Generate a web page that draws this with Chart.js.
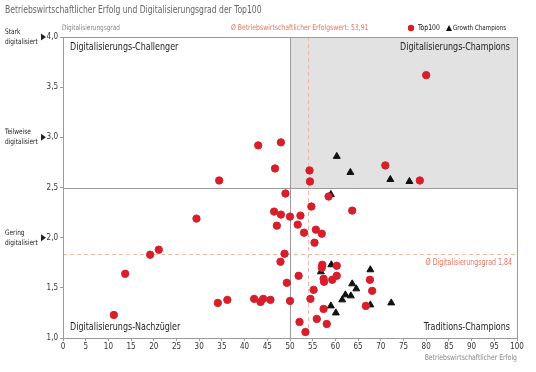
<!DOCTYPE html>
<html>
<head>
<meta charset="utf-8">
<script src="https://cdn.jsdelivr.net/npm/chart.js@4.4.0/dist/chart.umd.min.js"></script>
<style>
  html, body { margin: 0; padding: 0; background: #fff; }
</style>
</head>
<body>
<canvas id="chart" width="536" height="372"></canvas>
<script>
// Top100 (red dots): Betriebswirtschaftlicher Erfolg / Digitalisierungsgrad
const top100Erfolg = [80.0, 48.0, 43.0, 71.0, 46.7, 54.3, 34.4, 54.4, 78.6, 49.0,
  58.5, 54.7, 63.7, 46.5, 48.0, 50.0, 52.3, 47.1, 51.7, 55.7,
  57.0, 53.1, 55.4, 48.8, 29.4, 21.1, 19.2, 13.7, 11.2, 47.9,
  49.3, 51.9, 50.0, 45.7, 44.1, 43.5, 42.1, 36.2, 34.1, 52.1,
  57.1, 57.0, 60.3, 57.4, 57.5, 59.3, 60.3, 55.2, 54.5, 57.4,
  55.9, 58.1, 53.4, 67.6, 68.1, 66.7];
const top100Digital = [3.62, 2.95, 2.92, 2.72, 2.69, 2.67, 2.57, 2.56, 2.57, 2.44,
  2.41, 2.31, 2.27, 2.26, 2.23, 2.21, 2.22, 2.12, 2.13, 2.08,
  2.04, 2.05, 1.95, 1.84, 2.19, 1.88, 1.83, 1.64, 1.23, 1.76,
  1.55, 1.62, 1.37, 1.38, 1.39, 1.36, 1.39, 1.38, 1.35, 1.16,
  1.73, 1.70, 1.72, 1.59, 1.56, 1.58, 1.62, 1.48, 1.39, 1.29,
  1.19, 1.14, 1.06, 1.58, 1.47, 1.32];

// Growth Champions (black triangles)
const growthErfolg = [60.3, 63.3, 72.1, 76.3, 59.0, 59.1, 56.8, 63.7, 64.6, 62.2,
  63.4, 61.5, 59.0, 60.1, 67.7, 67.7, 72.3];
const growthDigital = [2.81, 2.65, 2.58, 2.56, 2.43, 1.73, 1.66, 1.54, 1.49, 1.43,
  1.42, 1.38, 1.32, 1.25, 1.68, 1.33, 1.35];

const avgErfolg = 53.91;
const avgDigital = 1.84;
const splitErfolg = 50;
const splitDigital = 2.5;

const levelNames = [['Stark', 'digitalisiert'], ['Teilweise', 'digitalisiert'], ['Gering', 'digitalisiert']];
const levelValues = [4, 3, 2];

const FONT = '"Liberation Sans Narrow", "DejaVu Sans Condensed", "Liberation Sans", sans-serif';
const RED = '#d71f2b';
const SALMON = '#e5765f';
const SQUEEZE = 0.86; // the original uses a condensed face

function toPoints(xs, ys) {
  return xs.map((v, i) => ({ x: v, y: ys[i] }));
}

const fmt = v => v.toFixed(1).replace('.', ',');

// narrow text: same width as before, a bit taller
function label(ctx, text, x, y, size, color, align) {
  ctx.save();
  ctx.translate(x, y);
  ctx.scale(SQUEEZE, 1);
  ctx.font = (size / SQUEEZE).toFixed(2) + 'px ' + FONT;
  ctx.fillStyle = color;
  ctx.textAlign = align || 'left';
  ctx.textBaseline = 'middle';
  ctx.fillText(text, 0, 0);
  ctx.restore();
}

// grey quadrant, split lines, average lines
const backdrop = {
  id: 'backdrop',
  beforeDatasetsDraw(chart) {
    const { ctx, chartArea: a, scales: { x, y } } = chart;
    const x50 = Math.round(x.getPixelForValue(splitErfolg)) + 0.5;
    const y25 = Math.round(y.getPixelForValue(splitDigital)) + 0.5;
    ctx.save();
    ctx.fillStyle = '#e2e2e2';
    ctx.fillRect(x50, a.top, a.right - x50, y25 - a.top);

    ctx.setLineDash([4, 3]);
    ctx.strokeStyle = '#f0b8a6';
    ctx.lineWidth = 1;
    const xa = Math.round(x.getPixelForValue(avgErfolg)) + 0.5;
    const ya = Math.round(y.getPixelForValue(avgDigital)) + 0.5;
    ctx.beginPath();
    ctx.moveTo(xa, a.top); ctx.lineTo(xa, a.bottom);
    ctx.moveTo(a.left, ya); ctx.lineTo(a.right, ya);
    ctx.stroke();

    ctx.setLineDash([]);
    ctx.strokeStyle = '#9b9b9b';
    ctx.beginPath();
    ctx.moveTo(x50, a.top); ctx.lineTo(x50, a.bottom);
    ctx.moveTo(a.left, y25); ctx.lineTo(a.right, y25);
    ctx.stroke();
    ctx.strokeRect(Math.round(a.left) + 0.5, Math.round(a.top) + 0.5,
      Math.round(a.width), Math.round(a.height));
    ctx.restore();
  },
  afterDraw(chart) {
    const { ctx, chartArea: a, scales: { y } } = chart;
    ctx.save();
    label(ctx, 'Betriebswirtschaftlicher Erfolg und Digitalisierungsgrad der Top100', 5, 10, 8.5, '#666');

    // axis titles
    label(ctx, 'Digitalisierungsgrad', 62, 28, 6.4, '#888');
    label(ctx, 'Betriebswirtschaftlicher Erfolg', a.right, 358, 6.8, '#888', 'right');

    // average labels
    label(ctx, 'Ø Betriebswirtschaftlicher Erfolgswert: 53,91', 231, 28, 6.8, SALMON);
    label(ctx, 'Ø Digitalisierungsgrad 1,84', a.right - 5, y.getPixelForValue(avgDigital) + 9, 7, SALMON, 'right');

    // legend
    ctx.fillStyle = RED;
    ctx.beginPath(); ctx.arc(411, 28, 3.2, 0, Math.PI * 2); ctx.fill();
    ctx.fillStyle = '#111';
    ctx.beginPath(); ctx.moveTo(446, 31); ctx.lineTo(452, 31); ctx.lineTo(449, 25); ctx.closePath(); ctx.fill();
    label(ctx, 'Top100', 418, 28, 6.8, '#111');
    label(ctx, 'Growth Champions', 453, 28, 6.2, '#111');

    // quadrant labels
    label(ctx, 'Digitalisierungs-Challenger', a.left + 7, a.top + 10, 8.9, '#222');
    label(ctx, 'Digitalisierungs-Nachzügler', a.left + 7, a.bottom - 11, 8.9, '#222');
    label(ctx, 'Digitalisierungs-Champions', a.right - 7, a.top + 10, 8.9, '#222', 'right');
    label(ctx, 'Traditions-Champions', a.right - 7, a.bottom - 11, 8.9, '#222', 'right');

    // level labels with arrows on the left
    levelValues.forEach((v, i) => {
      const py = y.getPixelForValue(v);
      label(ctx, levelNames[i][0], 5, py - 5, 6.5, '#222');
      label(ctx, levelNames[i][1], 5, py + 5, 6.5, '#222');
      ctx.fillStyle = '#222';
      ctx.beginPath();
      ctx.moveTo(41, py - 3.5); ctx.lineTo(46, py); ctx.lineTo(41, py + 3.5); ctx.closePath();
      ctx.fill();
    });
    ctx.restore();
  }
};

new Chart(document.getElementById('chart'), {
  type: 'scatter',
  data: {
    datasets: [
      {
        label: 'Top100',
        data: toPoints(top100Erfolg, top100Digital),
        backgroundColor: RED,
        borderColor: RED,
        pointRadius: 3.7,
        pointStyle: 'circle'
      },
      {
        label: 'Growth Champions',
        data: toPoints(growthErfolg, growthDigital),
        backgroundColor: '#111',
        borderColor: '#111',
        pointRadius: 4,
        pointStyle: 'triangle'
      }
    ]
  },
  options: {
    responsive: false,
    animation: false,
    layout: { padding: { top: 37, right: 19, left: 0, bottom: 0 } },
    plugins: { legend: { display: false }, tooltip: { enabled: false } },
    scales: {
      x: {
        type: 'linear',
        min: 0, max: 100,
        border: { display: false },
        grid: { drawOnChartArea: false, color: '#9b9b9b', tickLength: 3 },
        ticks: { stepSize: 5, color: '#333', font: { family: FONT, size: 8 }, padding: 1, maxRotation: 0 },
        afterFit(s) { s.height = 34; }
      },
      y: {
        type: 'linear',
        min: 1, max: 4,
        border: { display: false },
        grid: { drawOnChartArea: false, color: '#9b9b9b', tickLength: 3 },
        ticks: { stepSize: 0.5, color: '#333', font: { family: FONT, size: 8 }, padding: 2, callback: v => fmt(v) },
        afterFit(s) { s.width = 63; }
      }
    }
  },
  plugins: [backdrop]
});
</script>
</body>
</html>
